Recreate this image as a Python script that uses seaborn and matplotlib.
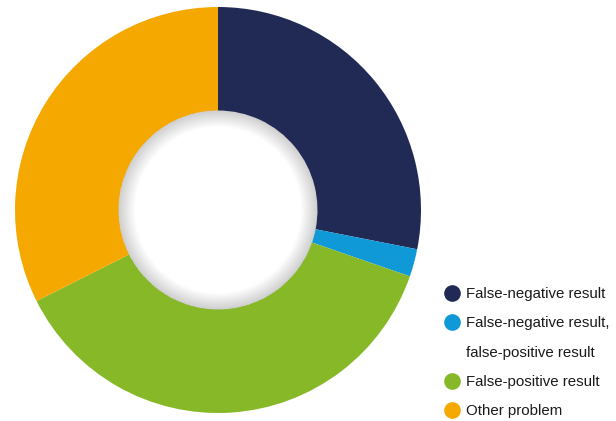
import numpy as np
import matplotlib
matplotlib.use("Agg")
import matplotlib.pyplot as plt
from matplotlib.lines import Line2D
from matplotlib.patches import Wedge
import seaborn as sns

# data (share of problems, %)
categories = ["False-negative result",
              "False-negative result,\nfalse-positive result",
              "False-positive result",
              "Other problem"]
shares = [28.1, 2.2, 37.3, 32.4]
colors = ["#212a55", "#0f99d6", "#86b828", "#f5a800"]

sns.set_theme(style="white")
plt.rcParams["font.family"] = ["Liberation Sans Narrow", "Liberation Sans", "DejaVu Sans"]

fig = plt.figure(figsize=(6.16, 4.21), dpi=100)
ax = fig.add_axes([15 / 616, 8 / 421, 406 / 616, 406 / 421])

hole = 0.49
wedges, _ = ax.pie(shares, colors=sns.color_palette(colors), startangle=90,
                   counterclock=False, radius=1.0,
                   wedgeprops=dict(width=1.0 - hole, linewidth=0))

# soft inner shadow at the rim of the hole (stacked thin rings)
for r in np.linspace(hole - 0.08, hole - 0.005, 12):
    ax.add_patch(Wedge((0, 0), hole, 0, 360, width=hole - r,
                       facecolor="black", alpha=0.015, linewidth=0, zorder=3))

ax.set_xlim(-1, 1)
ax.set_ylim(-1, 1)
ax.set_aspect("equal")
ax.axis("off")

# legend: the two-line label is split so the dot sits on the first line
handles, labels = [], []
for name, c in zip(categories, colors):
    parts = name.split("\n")
    handles.append(Line2D([], [], linestyle="none", marker="o",
                          markersize=12, markerfacecolor=c,
                          markeredgewidth=0))
    labels.append(parts[0])
    for extra in parts[1:]:
        handles.append(Line2D([], [], linestyle="none", marker=None))
        labels.append(extra)

leg = fig.legend(handles, labels, loc="upper left",
                 bbox_to_anchor=(444.5 / 616, 1 - 287 / 421),
                 frameon=False, fontsize=10.8, handlelength=1.0,
                 handletextpad=0.45, labelspacing=1.02, borderpad=0,
                 borderaxespad=0)
for t in leg.get_texts():
    t.set_color("#1a1a1a")

fig.savefig("out.png", dpi=100)
